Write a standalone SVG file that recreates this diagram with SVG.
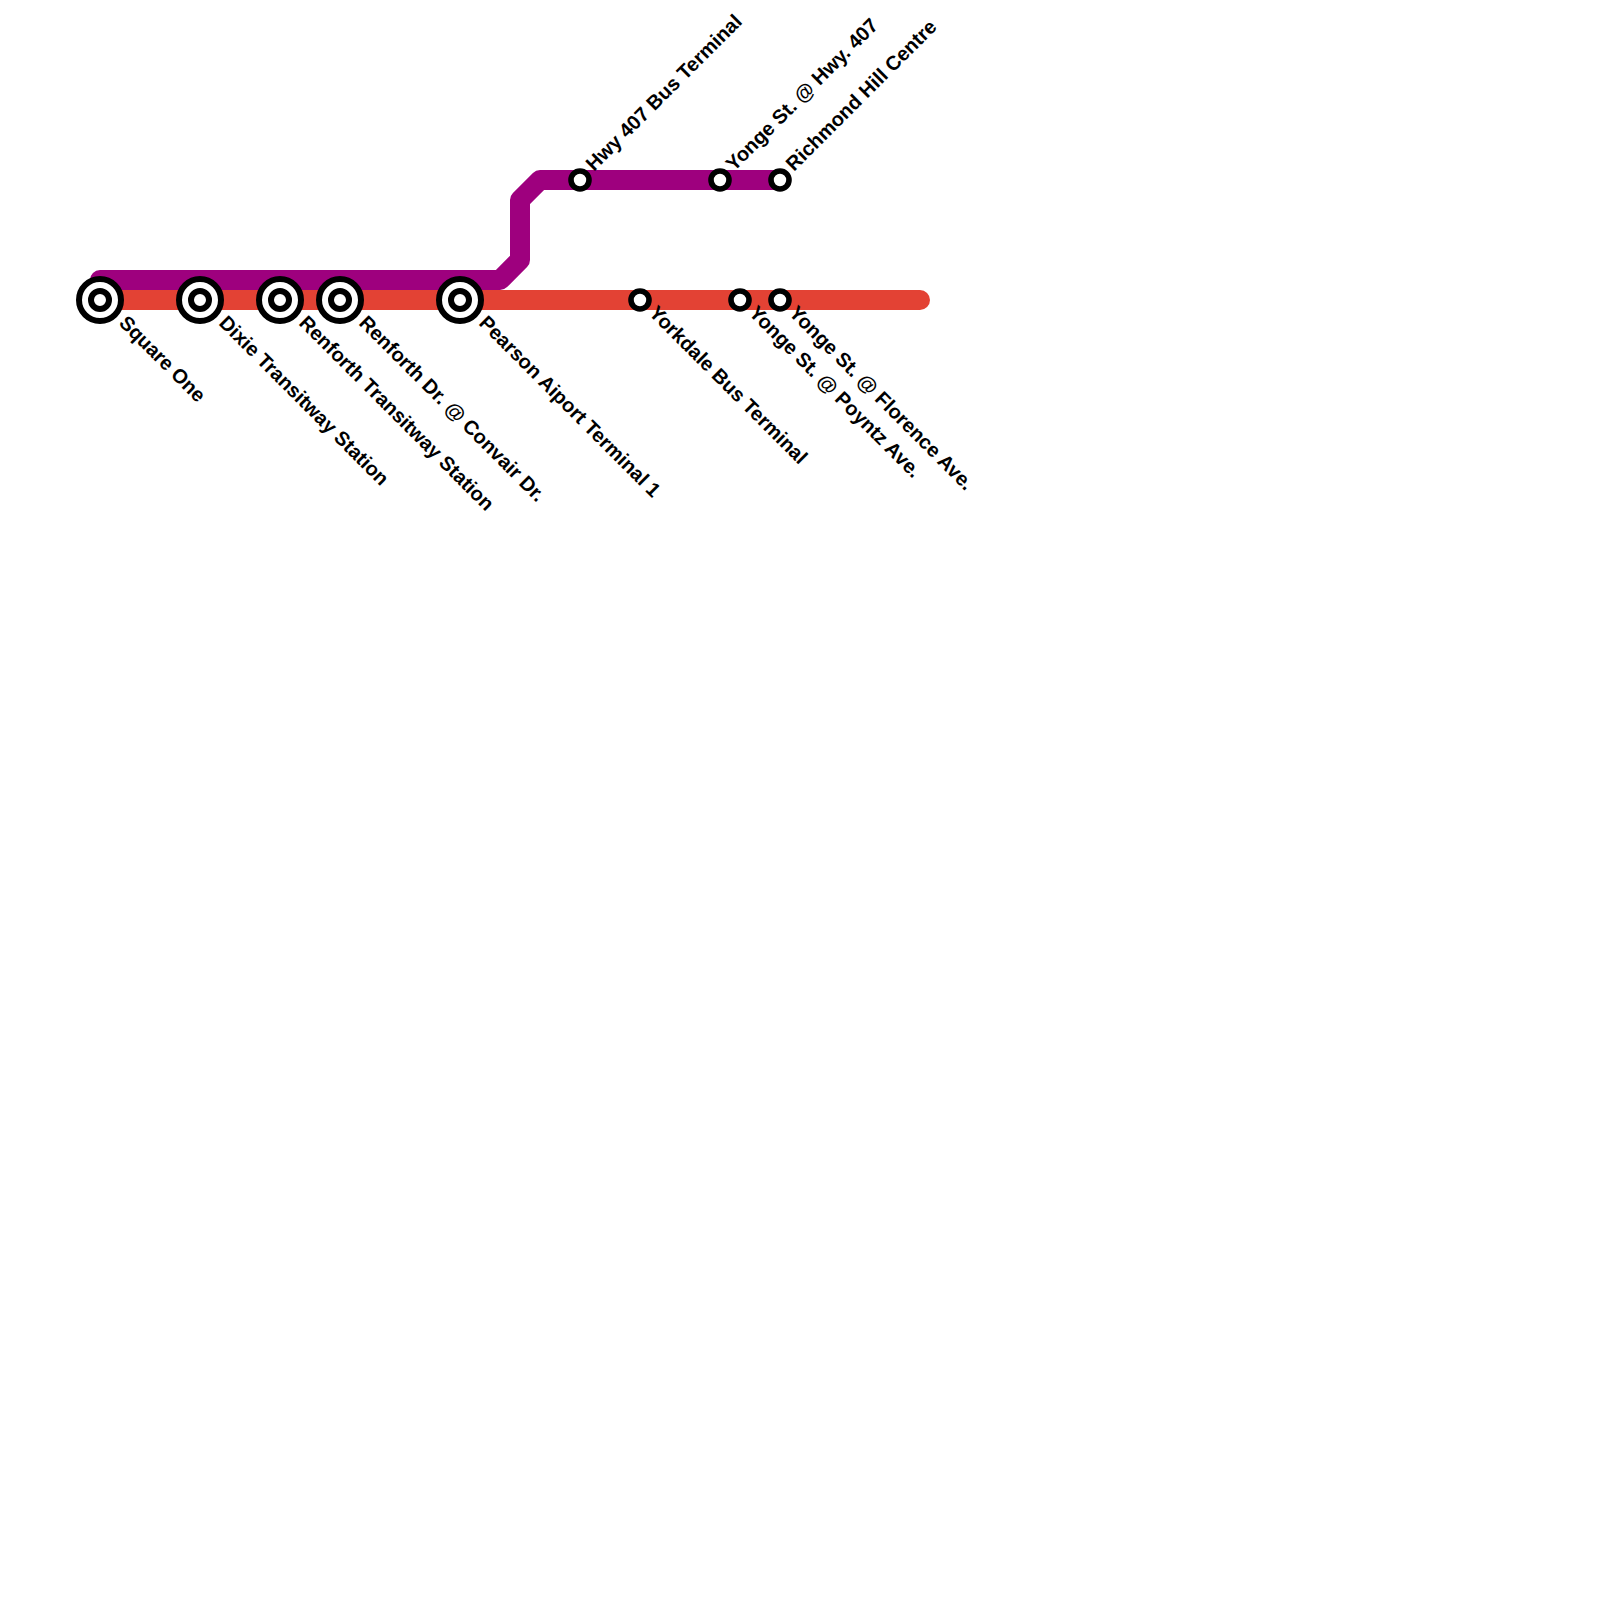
<svg xmlns="http://www.w3.org/2000/svg" width="1600" height="1600" viewBox="0 0 1600 1600">
<style>
.line{fill:none;stroke-width:20;stroke-linecap:round;stroke-linejoin:round}
.o{fill:#fff;stroke:#000;stroke-width:6}
.i{fill:#fff;stroke:#000;stroke-width:6}
.s{fill:#fff;stroke:#000;stroke-width:5.6}
text{font-family:"Liberation Sans",Arial,sans-serif;font-size:20px;font-weight:700;fill:#000}
</style>
<rect width="1600" height="1600" fill="#fff"/>
<g id="connectors">
<path class="line" stroke="#e34234" d="M100 300H920"/>
<path class="line" stroke="#9e007e" d="M100 280H500L520 260V200L540 180H780"/>
</g>
<g id="square-one"><circle class="o" cx="100" cy="300" r="21"/><circle class="i" cx="100" cy="300" r="9"/><text transform="translate(118 324) rotate(45)">Square One</text></g>
<g id="dixie"><circle class="o" cx="200" cy="300" r="21"/><circle class="i" cx="200" cy="300" r="9"/><text transform="translate(218 324) rotate(45)">Dixie Transitway Station</text></g>
<g id="renforth"><circle class="o" cx="280" cy="300" r="21"/><circle class="i" cx="280" cy="300" r="9"/><text transform="translate(298 324) rotate(45)">Renforth Transitway Station</text></g>
<g id="renforth-convair"><circle class="o" cx="340" cy="300" r="21"/><circle class="i" cx="340" cy="300" r="9"/><text transform="translate(358 324) rotate(45)">Renforth Dr. @ Convair Dr.</text></g>
<g id="pearson"><circle class="o" cx="460" cy="300" r="21"/><circle class="i" cx="460" cy="300" r="9"/><text transform="translate(478 324) rotate(45)">Pearson Aiport Terminal 1</text></g>
<g id="yorkdale"><circle class="s" cx="640" cy="300" r="9"/><text transform="translate(648 314) rotate(45)">Yorkdale Bus Terminal</text></g>
<g id="poyntz"><circle class="s" cx="740" cy="300" r="9"/><text transform="translate(748 314) rotate(45)">Yonge St. @ Poyntz Ave.</text></g>
<g id="florence"><circle class="s" cx="780" cy="300" r="9"/><text transform="translate(788 314) rotate(45)">Yonge St. @ Florence Ave.</text></g>
<g id="hwy407"><circle class="s" cx="580" cy="180" r="9"/><text transform="translate(594 172) rotate(-45)">Hwy 407 Bus Terminal</text></g>
<g id="yonge407"><circle class="s" cx="720" cy="180" r="9"/><text transform="translate(734 172) rotate(-45)">Yonge St. @ Hwy. 407</text></g>
<g id="richmond"><circle class="s" cx="780" cy="180" r="9"/><text transform="translate(794 172) rotate(-45)">Richmond Hill Centre</text></g>
</svg>
